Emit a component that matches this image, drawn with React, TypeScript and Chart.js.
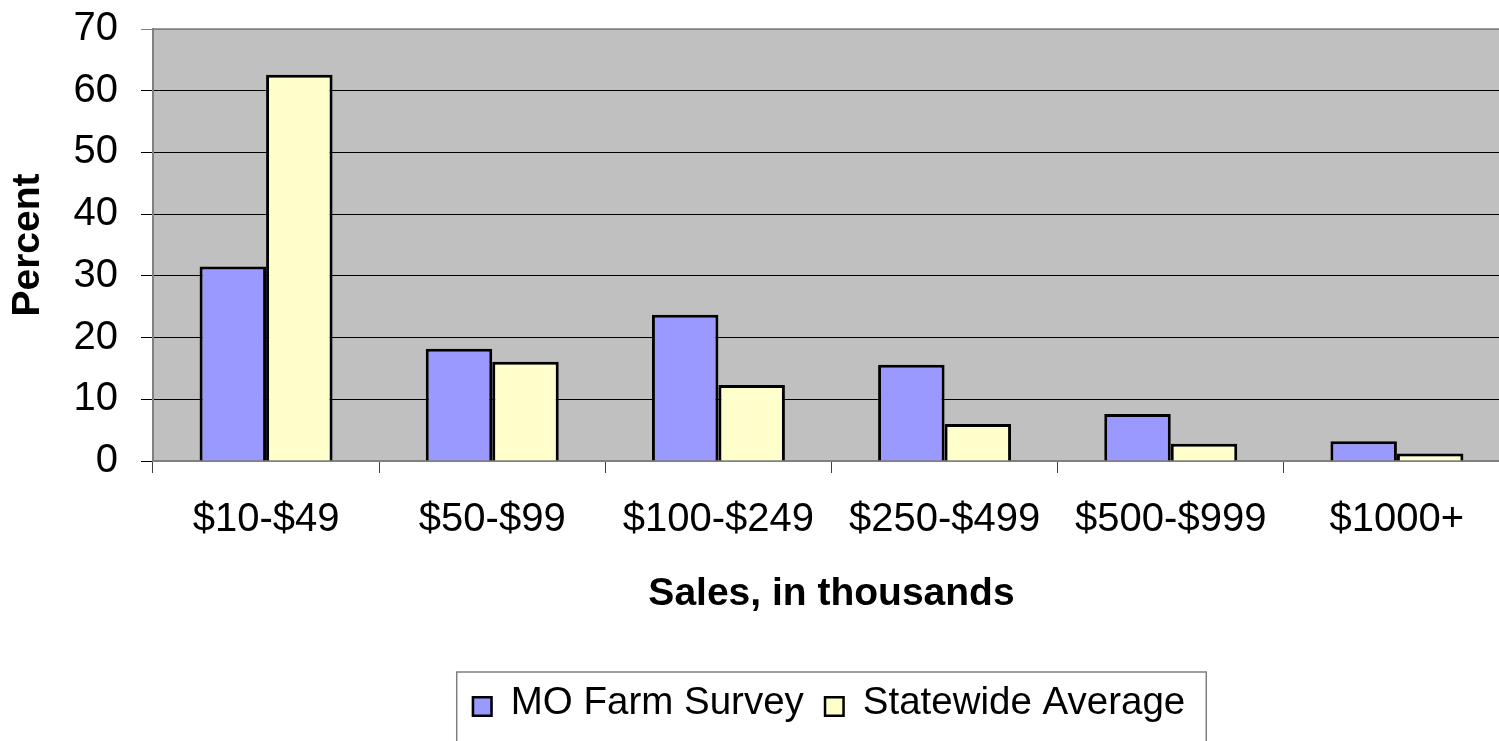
import { useEffect, useRef } from "react";
import { Chart, registerables } from "chart.js";

Chart.register(...registerables);

const categories = ["$10-$49", "$50-$99", "$100-$249", "$250-$499", "$500-$999", "$1000+"];
const moFarmSurvey = [31.5, 18.2, 23.7, 15.6, 7.6, 3.2];
const statewideAverage = [62.6, 16.1, 12.3, 6.0, 2.8, 1.2];
const seriesNames = ["MO Farm Survey", "Statewide Average"];
const seriesColors = ["#9999FF", "#FFFFCC"];
const yMin = 0;
const yMax = 70;
const yStep = 10;
const xTitle = "Sales, in thousands";
const yTitle = "Percent";

const FONT = "'Liberation Sans', Arial, Helvetica, sans-serif";

const plotBackground = {
  id: "plotBackground",
  beforeDraw(chart: any) {
    const { ctx, chartArea: a } = chart;
    ctx.save();
    ctx.fillStyle = "#C0C0C0";
    ctx.fillRect(a.left, a.top, a.right - a.left, a.bottom - a.top);
    ctx.strokeStyle = "#808080";
    ctx.lineWidth = 1.5;
    ctx.strokeRect(a.left, a.top, a.right - a.left, a.bottom - a.top);
    ctx.restore();
  },
};

const boxLegend = {
  id: "boxLegend",
  afterDraw(chart: any, _args: any, opts: any) {
    const { ctx, chartArea } = chart;
    const xScale = chart.scales.x;
    ctx.save();
    ctx.font = `${opts.fontSize}px ${FONT}`;
    const items = chart.data.datasets.map((ds: any) => ({
      label: ds.label,
      fill: ds.backgroundColor,
      w: ctx.measureText(ds.label).width,
    }));
    const { padL, padR, sq, sqGap, itemGap } = opts;
    const total =
      padL +
      padR +
      items.reduce((s: number, it: any) => s + sq + sqGap + it.w, 0) +
      itemGap * (items.length - 1);
    const cx = (chartArea.left + chartArea.right) / 2;
    const left = cx - total / 2;
    const top = xScale.bottom + opts.gap;
    const midY = top + opts.textOffset;
    ctx.strokeStyle = "#7f7f7f";
    ctx.lineWidth = 1.5;
    ctx.strokeRect(left, top, total, opts.height);
    let x = left + padL;
    ctx.textBaseline = "middle";
    ctx.textAlign = "left";
    items.forEach((it: any) => {
      const sqTop = midY - opts.sqRise;
      ctx.fillStyle = it.fill;
      ctx.fillRect(x, sqTop, sq, sq);
      ctx.strokeStyle = "#000";
      ctx.lineWidth = 2.5;
      ctx.strokeRect(x + 1.25, sqTop + 1.25, sq - 2.5, sq - 2.5);
      x += sq + sqGap;
      ctx.fillStyle = "#000";
      ctx.fillText(it.label, x, midY);
      x += it.w + itemGap;
    });
    ctx.restore();
  },
};

export default function App() {
  const canvasRef = useRef<HTMLCanvasElement | null>(null);

  useEffect(() => {
    if (!canvasRef.current) return;
    Chart.defaults.font.family = FONT;
    const chart = new Chart(canvasRef.current, {
      type: "bar",
      data: {
        labels: categories,
        datasets: [
          {
            label: seriesNames[0],
            data: moFarmSurvey,
            backgroundColor: seriesColors[0],
            borderColor: "#000",
            borderWidth: 3,
            categoryPercentage: 0.588,
            barPercentage: 1.0,
          },
          {
            label: seriesNames[1],
            data: statewideAverage,
            backgroundColor: seriesColors[1],
            borderColor: "#000",
            borderWidth: 3,
            categoryPercentage: 0.588,
            barPercentage: 1.0,
          },
        ],
      },
      options: {
        animation: false,
        responsive: false,
        devicePixelRatio: 1,
        layout: { padding: { top: 29, left: 0, right: 10, bottom: 133 } },
        plugins: {
          legend: { display: false },
          tooltip: { enabled: false },
          boxLegend: {
            fontSize: 38.5,
            padL: 15,
            padR: 21,
            sq: 21,
            sqGap: 18,
            itemGap: 20,
            gap: 45,
            height: 80,
            textOffset: 31.5,
            sqRise: 7.5,
          },
        } as any,
        scales: {
          x: {
            afterFit: (s: any) => {
              s.height = 166;
              s.paddingLeft = 0;
              s.paddingRight = 0;
            },
            grid: {
              display: true,
              drawOnChartArea: false,
              drawTicks: true,
              tickLength: 12,
              color: "#404040",
              offset: true,
            },
            border: { display: true, color: "#808080", width: 2 },
            ticks: {
              font: { size: 40, family: FONT },
              color: "#000",
              padding: 23,
              maxRotation: 0,
              autoSkip: false,
            },
            title: {
              display: true,
              text: xTitle,
              color: "#000",
              font: { size: 39, weight: "bold", family: FONT },
              padding: { top: 2, bottom: 9 },
            },
          },
          y: {
            min: yMin,
            max: yMax,
            afterFit: (s: any) => {
              s.width = 153;
              s.paddingTop = 0;
              s.paddingBottom = 0;
            },
            ticks: {
              stepSize: yStep,
              font: { size: 40, family: FONT },
              color: "#000",
              padding: 23,
            },
            grid: {
              color: (c: any) => (c.tick && c.tick.value === yMax ? "#808080" : "#000"),
              lineWidth: 1,
              tickLength: 12,
            },
            border: { display: true, color: "#808080", width: 2 },
            title: {
              display: true,
              text: yTitle,
              color: "#000",
              font: { size: 39, weight: "bold", family: FONT },
              padding: { top: 5, bottom: 0 },
            },
          },
        },
      },
      plugins: [plotBackground, boxLegend],
    });
    return () => chart.destroy();
  }, []);

  return (
    <div
      style={{
        position: "fixed",
        left: 0,
        top: 0,
        width: 1499,
        height: 741,
        overflow: "hidden",
        background: "#fff",
      }}
    >
      <canvas ref={canvasRef} width={1520} height={760} style={{ width: 1520, height: 760, display: "block" }} />
    </div>
  );
}
